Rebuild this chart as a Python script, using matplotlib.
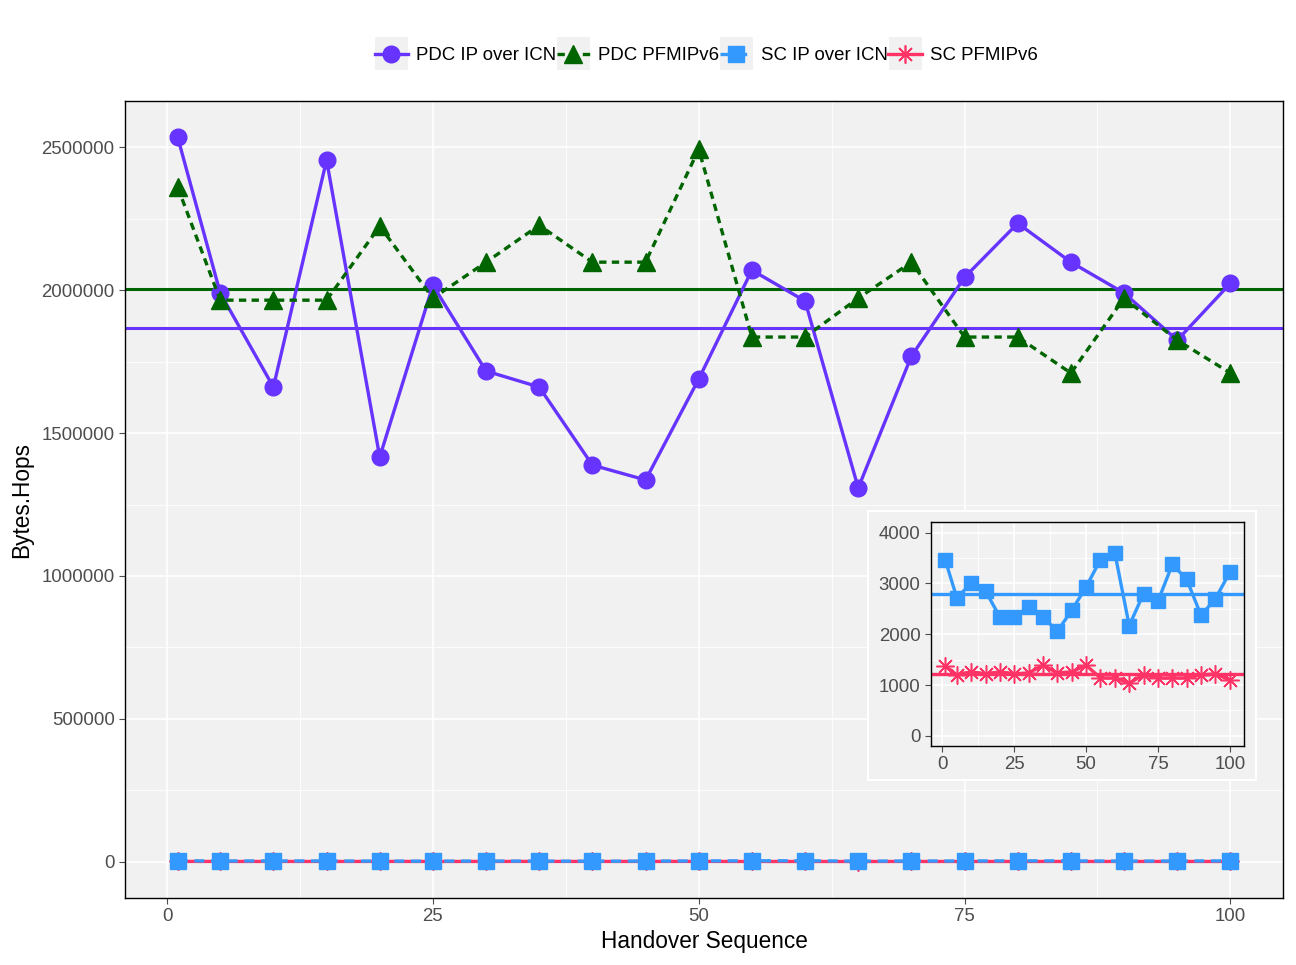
import matplotlib

matplotlib.use("Agg")
import matplotlib.pyplot as plt
import numpy as np
from matplotlib.lines import Line2D
from matplotlib.patches import Rectangle

plt.rcParams["font.family"] = ["Liberation Sans", "DejaVu Sans"]

# Handover sequence
seq = [1, 5, 10, 15, 20, 25, 30, 35, 40, 45, 50, 55, 60, 65, 70, 75, 80, 85, 90, 95, 100]

# Bytes.Hops per series
pdc_ip_icn = [2535000, 1990000, 1661000, 2455000, 1416000, 2017000, 1717000, 1661000,
              1388000, 1336000, 1689000, 2070000, 1962000, 1308000, 1769000, 2045000,
              2234000, 2098000, 1990000, 1825000, 2024000]
pdc_pfmipv6 = [2360000, 1965000, 1965000, 1965000, 2224000, 1972000, 2098000, 2227000,
               2098000, 2098000, 2493000, 1836000, 1836000, 1972000, 2098000, 1836000,
               1836000, 1710000, 1972000, 1825000, 1710000]
sc_ip_icn = [3460, 2720, 3000, 2850, 2340, 2340, 2540, 2340, 2060, 2470, 2930, 3470,
             3600, 2170, 2800, 2650, 3375, 3080, 2370, 2700, 3220]
sc_pfmipv6 = [1370, 1200, 1260, 1220, 1260, 1220, 1240, 1390, 1240, 1260, 1390, 1140,
              1140, 1040, 1200, 1140, 1140, 1140, 1200, 1220, 1100]

C_PDC_IP = "#6633FF"
C_PDC_PF = "#006400"
C_SC_IP = "#3399FF"
C_SC_PF = "#FF3366"
PANEL = "#F0F1F0"
TICK = "#4D4D4D"
STAR = (8, 2, 0)


def style_panel(ax, xmajor, ymajor, xminor, yminor, fs):
    ax.set_facecolor(PANEL)
    ax.set_xticks(xmajor)
    ax.set_yticks(ymajor)
    ax.set_xticks(xminor, minor=True)
    ax.set_yticks(yminor, minor=True)
    ax.grid(which="major", color="white", lw=1.2, zorder=0)
    ax.grid(which="minor", color="white", lw=0.6, zorder=0)
    ax.set_axisbelow(True)
    ax.tick_params(which="major", colors=TICK, labelsize=fs, length=4, width=0.8)
    ax.tick_params(which="minor", length=0)
    for s in ax.spines.values():
        s.set_color("black")
        s.set_linewidth(1.0)


fig = plt.figure(figsize=(12.96, 9.65), dpi=100)
ax = fig.add_axes([0.0965, 0.0694, 0.8935, 0.8259])

ax.axhline(np.mean(pdc_ip_icn), color=C_PDC_IP, lw=2.2, zorder=2)
ax.axhline(np.mean(pdc_pfmipv6), color=C_PDC_PF, lw=2.2, zorder=2)
ax.plot(seq, pdc_ip_icn, color=C_PDC_IP, lw=2.4, marker="o", ms=12, zorder=3)
ax.plot(seq, pdc_pfmipv6, color=C_PDC_PF, lw=2.4, ls=(0, (2.2, 1.6)), marker="^", ms=13, zorder=3)
ax.plot(seq, sc_pfmipv6, color=C_SC_PF, lw=2.4, marker=STAR, ms=13, mew=1.2, zorder=3)
ax.plot(seq, sc_ip_icn, color=C_SC_IP, lw=2.4, ls=(0, (3, 2)), marker="s", ms=11, zorder=4)

ax.set_xlim(-3.95, 104.95)
ax.set_ylim(-126750, 2661750)
style_panel(ax, [0, 25, 50, 75, 100], np.arange(0, 2500001, 500000),
            [12.5, 37.5, 62.5, 87.5], np.arange(250000, 2500001, 500000), 13.4)
ax.ticklabel_format(axis="y", style="plain")
ax.set_xlabel("Handover Sequence", fontsize=16.3, labelpad=3)
ax.set_ylabel("Bytes.Hops", fontsize=16.3, labelpad=6)

# inset background box
fig.patches.append(Rectangle((0.6698, 0.1917), 0.2993, 0.2788, transform=fig.transFigure,
                             facecolor=PANEL, edgecolor="white", lw=1.5, zorder=5))

axi = fig.add_axes([0.7184, 0.2269, 0.2415, 0.2322])
axi.set_zorder(6)
axi.axhline(np.mean(sc_ip_icn), color=C_SC_IP, lw=2.4, zorder=2)
axi.axhline(np.mean(sc_pfmipv6), color=C_SC_PF, lw=2.4, zorder=2)
axi.plot(seq, sc_ip_icn, color=C_SC_IP, lw=2.4, marker="s", ms=10, zorder=3)
axi.plot(seq, sc_pfmipv6, color=C_SC_PF, lw=2.4, marker=STAR, ms=13, mew=1.1, zorder=3)
axi.set_xlim(-3.95, 104.95)
axi.set_ylim(-200, 4210)
style_panel(axi, [0, 25, 50, 75, 100], [0, 1000, 2000, 3000, 4000],
            [12.5, 37.5, 62.5, 87.5], [500, 1500, 2500, 3500], 13.4)

handles = [
    Line2D([], [], color=C_PDC_IP, lw=2.4, marker="o", ms=12),
    Line2D([], [], color=C_PDC_PF, lw=2.4, ls=(0, (2.2, 1.6)), marker="^", ms=13),
    Line2D([], [], color=C_SC_IP, lw=2.4, ls=(0, (3, 2)), marker="s", ms=11),
    Line2D([], [], color=C_SC_PF, lw=2.4, marker=STAR, ms=13, mew=1.2),
]
labels = ["PDC IP over ICN", "PDC PFMIPv6", "SC IP over ICN", "SC PFMIPv6"]
leg = fig.legend(handles, labels, loc="center", bbox_to_anchor=(0.545, 0.942), ncol=4,
                 frameon=False, fontsize=13.4, handlelength=1.8, handletextpad=0.45,
                 columnspacing=0.0)

# grey key backgrounds behind the legend symbols
fig.canvas.draw()
renderer = fig.canvas.get_renderer()
for h in leg.legend_handles:
    bb = h.get_window_extent(renderer)
    cx, cy = (bb.x0 + bb.x1) / 2, (bb.y0 + bb.y1) / 2
    side = 33
    fig.patches.append(Rectangle(((cx - side / 2) / 1296, (cy - side / 2) / 965),
                                 side / 1296, side / 965, transform=fig.transFigure,
                                 facecolor=PANEL, edgecolor="none", zorder=-1))

fig.savefig("out.png", dpi=100)
